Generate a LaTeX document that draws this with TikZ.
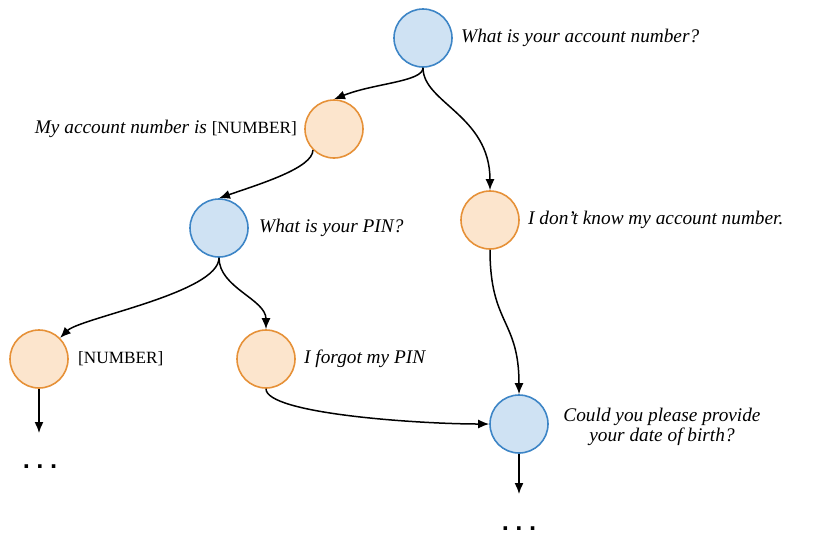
\documentclass[tikz,border=0pt]{standalone}
\usepackage{fontspec}
\setmainfont{Liberation Serif}
\newfontfamily\dotfont{DejaVu Sans}
\usetikzlibrary{arrows.meta}
\definecolor{qfill}{RGB}{207,226,243}
\definecolor{qdraw}{RGB}{61,133,198}
\definecolor{afill}{RGB}{252,229,205}
\definecolor{adraw}{RGB}{230,145,56}
\tikzset{
  qnode/.style={circle, minimum size=58pt, inner sep=0pt, fill=qfill, draw=qdraw, line width=1.6pt},
  anode/.style={circle, minimum size=58pt, inner sep=0pt, fill=afill, draw=adraw, line width=1.6pt},
  lbl/.style={inner sep=0pt, font=\fontsize{19.3}{22}\selectfont\itshape},
  uplbl/.style={inner sep=0pt, font=\fontsize{17.2}{22}\selectfont},
  dots/.style={inner sep=0pt, font=\dotfont\fontsize{20}{24}\selectfont\bfseries},
  conn/.style={line width=1.5pt, -{Latex[length=11pt,width=9pt]}}
}
\begin{document}
\begin{tikzpicture}[x=1pt,y=-1pt]
\useasboundingbox (0,0) rectangle (829,550);
\node[qnode] (q1) at (423,38) {};
\node[anode] (a1) at (334,129) {};
\node[qnode] (q2) at (219,228) {};
\node[anode] (a2) at (490,220) {};
\node[anode] (a3) at (39,359) {};
\node[anode] (a4) at (266,359) {};
\node[qnode] (q3) at (519,424) {};

\node[lbl, anchor=west] (t1) at (461,38) {What is your account number?};
\node[lbl, anchor=east] (t2) at (297,129) {My account number is \fontsize{17.2}{22}\selectfont\upshape[NUMBER]};
\node[lbl, anchor=west] (t3) at (259,228) {What is your PIN?};
\node[lbl, anchor=west] (t4) at (528,220) {I don’t know my account number.};
\node[uplbl, anchor=west] (t5) at (78,359) {[NUMBER]};
\node[lbl, anchor=west] (t6) at (304,359) {I forgot my PIN};
\node[lbl, align=center, font=\fontsize{19.3}{20}\selectfont\itshape] (t7) at (662,427) {Could you please provide\\your date of birth?};

\coordinate (e1) at (39,433);
\coordinate (e2) at (519,494);
\node[dots] (d1) at (40,467) {.\kern6pt.\kern6pt.};
\node[dots] (d2) at (519,529) {.\kern6pt.\kern6pt.};

\draw[conn] (q1.south) .. controls +(0,14) and +(40,-16) .. (a1.north);
\draw[conn] (q1.south) .. controls +(0,35) and +(0,-75) .. (a2.north);
\draw[conn] (a1.south west) .. controls +(0,18) and +(40,-14) .. (q2.north);
\draw[conn] (q2.south) .. controls +(0,35) and +(20,-20) .. (a3.north east);
\draw[conn] (q2.south) .. controls +(0,30) and +(0,-30) .. (a4.north);
\draw[conn] (a2.south) .. controls +(0,75) and +(0,-75) .. (q3.north);
\draw[conn] (a4.south) .. controls +(0,25) and +(-70,0) .. (q3.west);
\draw[conn] (a3.south) -- (e1);
\draw[conn] (q3.south) -- (e2);
\end{tikzpicture}
\end{document}
